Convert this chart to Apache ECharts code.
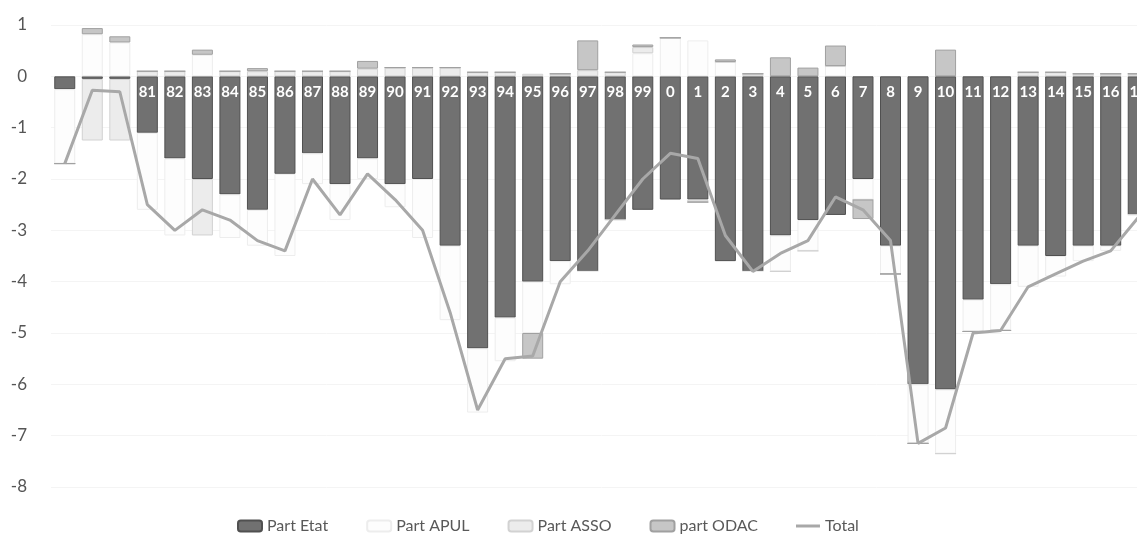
<!DOCTYPE html>
<html>
<head>
<meta charset="utf-8">
<script src="https://cdn.jsdelivr.net/npm/echarts@6/dist/echarts.min.js"></script>
<style>
  html, body { margin: 0; padding: 0; background: #fff; overflow: hidden; }
  #chart { width: 1152px; height: 535px; }
</style>
</head>
<body>
<div id="chart"></div>
<script>
// Years (two-digit), 1978 to 2017
const years = ['78','79','80','81','82','83','84','85','86','87','88','89','90','91','92','93','94','95','96','97','98','99',
               '0','1','2','3','4','5','6','7','8','9','10','11','12','13','14','15','16','17'];

// Contributions to the public balance, % of GDP
const partEtat = [-0.25,-0.05,-0.05,-1.1,-1.6,-2.0,-2.3,-2.6,-1.9,-1.5,-2.1,-1.6,-2.1,-2.0,-3.3,-5.3,-4.7,-4.0,-3.6,-3.8,-2.8,-2.6,
                  -2.4,-2.4,-3.6,-3.8,-3.1,-2.8,-2.7,-2.0,-3.3,-6.0,-6.1,-4.35,-4.05,-3.3,-3.5,-3.3,-3.3,-2.7];
const partAPUL = [-1.45,0.82,0.66,-1.5,-1.5,0.42,-0.85,-0.7,-1.6,-0.6,-0.7,-0.4,-0.45,-1.15,-1.45,-1.25,-0.85,-1.0,-0.45,0,0,0.45,
                  0.75,0.7,0.28,0,-0.7,-0.6,0.2,-0.4,-0.55,-1.15,-1.25,-0.62,-0.9,-0.8,-0.4,-0.3,-0.1,0];
const partASSO = [0,-1.2,-1.2,0.1,0.1,-1.1,0.1,0.1,0.1,0.1,0.1,0.15,0.17,0.17,0.17,0.08,0.08,0.05,0.05,0.12,0.08,0.12,
                  0,-0.05,0,0.05,0,0,0,0,0,0,0,0,0,0.08,0.08,0.05,0.05,0.05];
const partODAC = [0,0.12,0.12,0,0,0.1,0,0.06,0,0,0,0.15,0,0,0,0,0,-0.5,0,0.58,0,0.05,
                  0,0,0.05,0,0.37,0.17,0.4,-0.38,0,0,0.52,0,0,0,0,0,0,0];
const total    = [-1.7,-0.27,-0.3,-2.5,-3.0,-2.6,-2.8,-3.2,-3.4,-2.0,-2.7,-1.9,-2.4,-3.0,-4.6,-6.5,-5.5,-5.45,-4.0,-3.4,-2.7,-2.0,
                  -1.5,-1.6,-3.1,-3.8,-3.45,-3.2,-2.35,-2.6,-3.2,-7.15,-6.85,-5.0,-4.95,-4.1,-3.85,-3.6,-3.4,-2.75];

// Value axis ticks
const yMin = -8, yMax = 1, yStep = 1;

const font = 'Lato, "Open Sans", sans-serif';
const chart = echarts.init(document.getElementById('chart'), null, { renderer: 'canvas' });

chart.setOption({
  animation: false,
  textStyle: { fontFamily: font },
  grid: { left: 51, right: 0, top: 25, bottom: 48, containLabel: false },
  legend: {
    left: 232, top: 513,
    itemWidth: 24, itemHeight: 11, itemGap: 38,
    textStyle: { fontSize: 16, color: '#595959', fontFamily: font },
    data: [
      { name: 'Part Etat' },
      { name: 'Part APUL' },
      { name: 'Part ASSO' },
      { name: 'part ODAC' },
      { name: 'Total', icon: 'path://M0,0h24v3h-24z' }
    ]
  },
  xAxis: {
    type: 'category',
    data: years,
    axisLine: { show: false },
    axisTick: { show: false },
    axisLabel: { show: false },
    splitLine: { show: false }
  },
  yAxis: {
    type: 'value',
    min: yMin, max: yMax, interval: yStep,
    axisLine: { show: false },
    axisTick: { show: false },
    axisLabel: { fontSize: 17, color: '#555', margin: 24, fontFamily: font },
    splitLine: { show: true, lineStyle: { color: '#f4f4f4', width: 1 } }
  },
  series: [
    {
      name: 'Part Etat', type: 'bar', stack: 'parts', barWidth: 21,
      data: partEtat,
      itemStyle: { color: '#717171', borderColor: '#505050', borderWidth: 1 },
      label: {
        show: true, position: 'insideTop', distance: 8,
        color: '#fff', fontSize: 15, fontWeight: 'bold', fontFamily: font,
        formatter: p => (p.value <= -0.5 ? p.name : '')
      }
    },
    {
      name: 'Part APUL', type: 'bar', stack: 'parts', barWidth: 21,
      data: partAPUL,
      itemStyle: { color: '#fdfdfd', borderColor: '#ededed', borderWidth: 1 }
    },
    {
      name: 'Part ASSO', type: 'bar', stack: 'parts', barWidth: 21,
      data: partASSO,
      itemStyle: { color: '#ececec', borderColor: '#d2d2d2', borderWidth: 1 }
    },
    {
      name: 'part ODAC', type: 'bar', stack: 'parts', barWidth: 21,
      data: partODAC,
      itemStyle: { color: '#c6c6c6', borderColor: '#a0a0a0', borderWidth: 1 }
    },
    {
      name: 'Total', type: 'line',
      data: total,
      symbol: 'none',
      lineStyle: { color: '#a8a8a8', width: 3 },
      itemStyle: { color: '#a8a8a8' },
      z: 5
    }
  ]
});
</script>
</body>
</html>
